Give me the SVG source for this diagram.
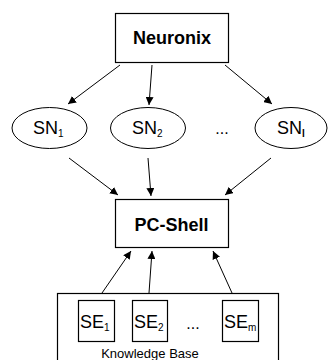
<svg xmlns="http://www.w3.org/2000/svg" width="328" height="360" viewBox="0 0 328 360">
<style>
.box{fill:#fff;stroke:#000;stroke-width:1.2}
.ell{fill:#fff;stroke:#000;stroke-width:1}
.title{font-family:"Liberation Sans",Arial,sans-serif;font-weight:bold;font-size:18px;text-anchor:middle}
.lbl{font-family:"Liberation Sans",Arial,sans-serif;font-size:18px}
.sub{font-size:10px}
.dots{font-family:"Liberation Sans",Arial,sans-serif;font-size:16px;text-anchor:middle}
.kb{font-family:"Liberation Sans",Arial,sans-serif;font-size:13px;text-anchor:middle}
.conn line{stroke:#000;stroke-width:1;marker-end:url(#ah)}
</style>
<defs>
<marker id="ah" viewBox="0 0 10 10" refX="10" refY="5" markerWidth="8" markerHeight="8" markerUnits="userSpaceOnUse" orient="auto">
<path d="M0,0 L10,5 L0,10 z" fill="#000"/>
</marker>
</defs>
<rect width="328" height="360" fill="#fff"/>
<g id="neuronix">
<rect class="box" x="115.5" y="13.5" width="113" height="49"/>
<text class="title" x="172" y="44">Neuronix</text>
</g>
<g id="sn1">
<ellipse class="ell" cx="49.5" cy="128" rx="37.5" ry="20.5"/>
<text class="lbl" x="33" y="134">SN<tspan class="sub" dy="3">1</tspan></text>
</g>
<g id="sn2">
<ellipse class="ell" cx="148" cy="128" rx="37.5" ry="20.5"/>
<text class="lbl" x="132" y="134">SN<tspan class="sub" dy="3">2</tspan></text>
</g>
<g id="dots1">
<text class="dots" x="222" y="134">...</text>
</g>
<g id="snl">
<ellipse class="ell" cx="291" cy="128" rx="36" ry="20.5"/>
<text class="lbl" x="277" y="134">SN<tspan class="sub" dy="3" font-weight="bold">l</tspan></text>
</g>
<g id="pcshell">
<rect class="box" x="115.5" y="199.5" width="113" height="48"/>
<text class="title" x="171.5" y="231">PC-Shell</text>
</g>
<g id="kb">
<rect class="box" x="57.5" y="293.5" width="221" height="80"/>
<text class="kb" x="150" y="358">Knowledge Base</text>
</g>
<g id="se1">
<rect class="box" x="78.5" y="300.5" width="36" height="41"/>
<text class="lbl" x="80" y="328">SE<tspan class="sub" dy="3">1</tspan></text>
</g>
<g id="se2">
<rect class="box" x="132.5" y="300.5" width="35" height="41"/>
<text class="lbl" x="134" y="328">SE<tspan class="sub" dy="3">2</tspan></text>
</g>
<g id="dots2">
<text class="dots" x="193" y="329">...</text>
</g>
<g id="sem">
<rect class="box" x="222.5" y="300.5" width="36" height="41"/>
<text class="lbl" x="224" y="328">SE<tspan class="sub" dy="3">m</tspan></text>
</g>
<g class="conn" id="connectors">
<line x1="120" y1="65" x2="68" y2="104"/>
<line x1="152" y1="65" x2="149" y2="105"/>
<line x1="225" y1="65" x2="272" y2="104"/>
<line x1="69" y1="158" x2="118" y2="195"/>
<line x1="148" y1="158" x2="151" y2="196"/>
<line x1="271" y1="158" x2="225" y2="195"/>
<line x1="102" y1="293" x2="131" y2="251"/>
<line x1="149" y1="293" x2="152" y2="251"/>
<line x1="232" y1="293" x2="213" y2="251"/>
</g>
</svg>
